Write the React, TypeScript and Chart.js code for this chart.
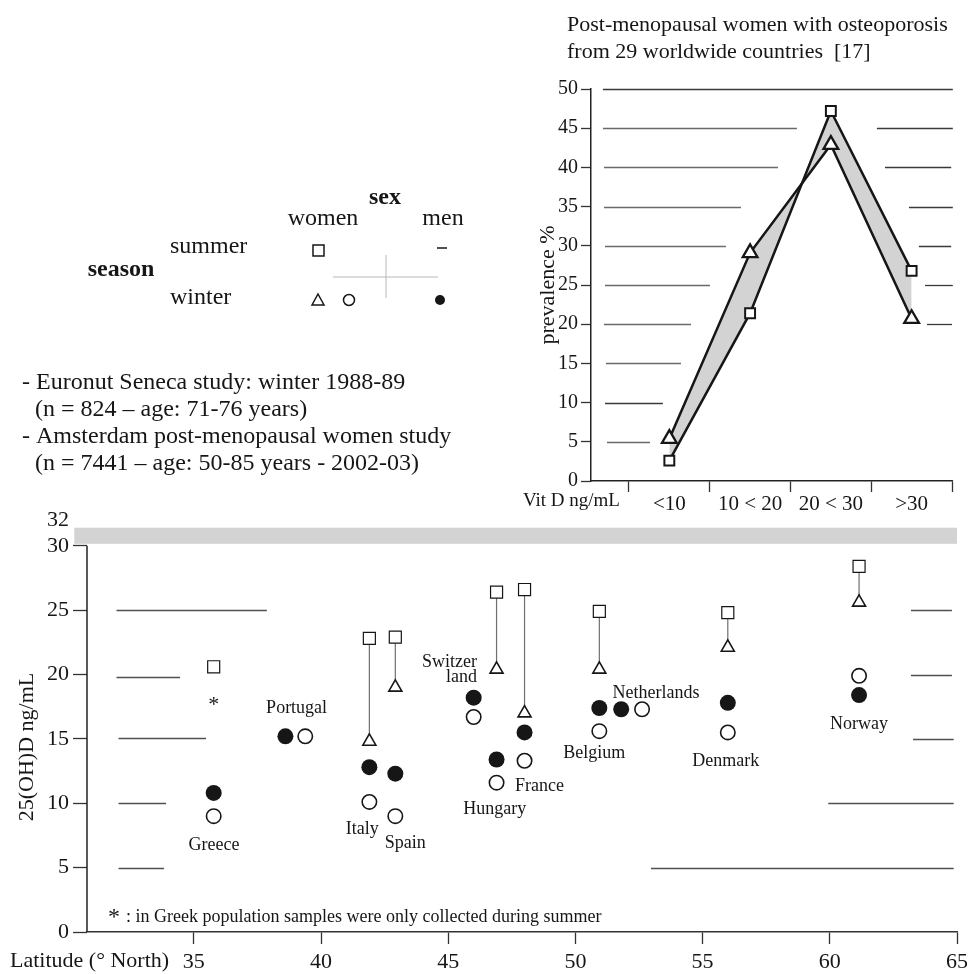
import React, { useEffect, useRef } from 'react';
import { Chart, registerables } from 'chart.js';

Chart.register(...registerables);

const FONT = "'Liberation Serif', 'Times New Roman', serif";
const INK = '#161616';

// ---------------- bottom chart data (25(OH)D by latitude) ----------------
const countries = ['Greece', 'Portugal', 'Italy', 'Spain', 'Switzerland', 'Hungary', 'France', 'Belgium', 'Netherlands', 'Denmark', 'Norway'];
const latitudeWomen = [35.78, 39.38, 41.9, 42.92, 46.0, 46.9, 48.0, 50.94, 52.62, 55.99, 61.15];
const latitudeMen = [35.78, 38.6, 41.9, 42.92, 46.0, 46.9, 48.0, 50.94, 51.8, 55.99, 61.15];
const summerWomen = [20.6, null, 22.8, 22.9, null, 26.4, 26.6, 24.9, null, 24.8, 28.4];
const winterWomenAmsterdam = [null, null, 14.8, 19.0, null, 20.4, 17.0, 20.4, null, 22.1, 25.6];
const winterWomenSeneca = [9.0, 15.2, 10.1, 9.0, 16.7, 11.6, 13.3, 15.6, 17.3, 15.5, 19.9];
const winterMenSeneca = [10.8, 15.2, 12.8, 12.3, 18.2, 13.4, 15.5, 17.4, 17.3, 17.8, 18.4];
const latitudeTicks = [35, 40, 45, 50, 55, 60, 65];
const vitDTicks = [0, 5, 10, 15, 20, 25, 30, 32];

// ---------------- top chart data (prevalence by vit D class) ----------------
const vitDClasses = ['<10', '10 < 20', '20 < 30', '>30'];
const prevalenceSquare = [2.6, 21.4, 47.2, 26.8];
const prevalenceTriangle = [5.4, 29.1, 42.9, 20.7];

// ---------------- layout helpers (label anchors in data units) ----------------
const countryLabels: { text: string[]; lat: number; val: number; align: CanvasTextAlign }[] = [
  { text: ['Greece'], lat: 35.79, val: 6.76, align: 'center' },
  { text: ['Portugal'], lat: 39.04, val: 17.41, align: 'center' },
  { text: ['Italy'], lat: 41.62, val: 8.0, align: 'center' },
  { text: ['Spain'], lat: 43.31, val: 6.92, align: 'center' },
  { text: ['Switzer', 'land'], lat: 46.13, val: 20.98, align: 'right' },
  { text: ['Hungary'], lat: 46.83, val: 9.56, align: 'center' },
  { text: ['France'], lat: 48.59, val: 11.35, align: 'center' },
  { text: ['Belgium'], lat: 50.74, val: 13.91, align: 'center' },
  { text: ['Netherlands'], lat: 53.17, val: 18.57, align: 'center' },
  { text: ['Denmark'], lat: 55.91, val: 13.29, align: 'center' },
  { text: ['Norway'], lat: 61.15, val: 16.17, align: 'center' },
];
const bottomSegments = [
  [25, 31.96, 37.87], [25, 63.19, 64.8],
  [19.8, 31.96, 34.46], [20, 63.19, 64.8],
  [15.05, 32.04, 35.48], [15, 63.27, 64.87],
  [10, 32.04, 33.91], [10, 59.94, 64.87],
  [5, 32.04, 33.83], [5, 52.97, 64.87],
];
const topSegments = [
  [50, 0.178, 4.51],
  [45, 0.178, 2.58], [45, 3.57, 4.51],
  [40, 0.19, 2.345], [40, 3.67, 4.49],
  [35, 0.19, 1.887], [35, 3.967, 4.51],
  [30, 0.203, 1.7], [30, 4.09, 4.49],
  [25, 0.203, 1.503], [25, 4.166, 4.51],
  [20, 0.19, 1.268], [20, 4.19, 4.5],
  [15, 0.215, 1.144],
  [10, 0.203, 0.92],
  [5, 0.228, 0.76],
];

function text(ctx: CanvasRenderingContext2D, s: string, x: number, y: number, size: number, align: CanvasTextAlign = 'left', bold = false) {
  ctx.font = `${bold ? 'bold ' : ''}${size}px ${FONT}`;
  ctx.fillStyle = INK;
  ctx.textAlign = align;
  ctx.textBaseline = 'middle';
  ctx.fillText(s, x, y);
}

function line(ctx: CanvasRenderingContext2D, x1: number, y1: number, x2: number, y2: number, color: string, w: number) {
  ctx.beginPath();
  ctx.strokeStyle = color;
  ctx.lineWidth = w;
  ctx.moveTo(x1, y1);
  ctx.lineTo(x2, y2);
  ctx.stroke();
}

const bottomDecor = {
  id: 'bottomDecor',
  beforeDatasetsDraw(chart: any) {
    const { ctx } = chart;
    const x = chart.scales.x, y = chart.scales.y;
    ctx.save();
    // reference band
    ctx.fillStyle = '#d3d3d3';
    const bx1 = x.getPixelForValue(30.3), bx2 = x.getPixelForValue(65);
    const by1 = y.getPixelForValue(31.4), by2 = y.getPixelForValue(30.15);
    ctx.fillRect(bx1, by1, bx2 - bx1, by2 - by1);
    // broken horizontal lines
    for (const [v, a, b] of bottomSegments) {
      const py = Math.round(y.getPixelForValue(v)) + 0.5;
      line(ctx, x.getPixelForValue(a), py, x.getPixelForValue(b), py, '#505050', 1.3);
    }
    // y axis line 0..30
    const ax = chart.chartArea.left;
    line(ctx, ax, y.getPixelForValue(0), ax, y.getPixelForValue(30), '#222', 1.5);
    ctx.restore();
  },
  afterDraw(chart: any) {
    const { ctx } = chart;
    const x = chart.scales.x, y = chart.scales.y;
    ctx.save();
    // country labels
    for (const l of countryLabels) {
      const px = x.getPixelForValue(l.lat);
      l.text.forEach((t, i) => text(ctx, t, px, y.getPixelForValue(l.val) + i * 15, 18, l.align));
    }
    // asterisk for Greece
    ctx.font = `22px ${FONT}`;
    ctx.fillStyle = INK;
    ctx.textAlign = 'center';
    ctx.textBaseline = 'alphabetic';
    ctx.fillText('*', x.getPixelForValue(latitudeWomen[0]), y.getPixelForValue(17.95) + 10);
    // footnote
    ctx.font = `24px ${FONT}`;
    ctx.textAlign = 'left';
    ctx.fillText('*', 108, 924);
    text(ctx, ': in Greek population samples were only collected during summer', 126, 917, 18);
    // axis titles
    text(ctx, 'Latitude (° North)', 10, 961, 22);
    ctx.save();
    ctx.translate(27, 747);
    ctx.rotate(-Math.PI / 2);
    text(ctx, '25(OH)D ng/mL', 0, 0, 22, 'center');
    ctx.restore();

    // top title
    text(ctx, 'Post-menopausal women with osteoporosis', 567, 25, 22);
    text(ctx, 'from 29 worldwide countries  [17]', 567, 52, 22);

    // legend block
    text(ctx, 'sex', 385, 198, 24, 'center', true);
    text(ctx, 'women', 323, 219, 24, 'center');
    text(ctx, 'men', 443, 219, 24, 'center');
    text(ctx, 'summer', 170, 247, 24);
    text(ctx, 'season', 121, 270, 24, 'center', true);
    text(ctx, 'winter', 170, 298, 24);
    line(ctx, 333, 277, 438, 277, '#b8b8b8', 1);
    line(ctx, 386, 255, 386, 298, '#b8b8b8', 1);
    ctx.lineWidth = 1.5;
    ctx.strokeStyle = INK;
    ctx.fillStyle = '#fff';
    ctx.fillRect(313, 245, 11, 11);
    ctx.strokeRect(313, 245, 11, 11);
    line(ctx, 437, 248, 447, 248, INK, 1.5);
    ctx.beginPath();
    ctx.moveTo(318, 294); ctx.lineTo(324, 305); ctx.lineTo(312, 305); ctx.closePath();
    ctx.lineWidth = 1.5; ctx.strokeStyle = INK; ctx.stroke();
    ctx.beginPath(); ctx.arc(349, 300, 5.5, 0, Math.PI * 2); ctx.stroke();
    ctx.beginPath(); ctx.arc(440, 300, 5, 0, Math.PI * 2); ctx.fillStyle = INK; ctx.fill();

    // study notes
    text(ctx, '- Euronut Seneca study: winter 1988-89', 22, 383, 24);
    text(ctx, '(n = 824 – age: 71-76 years)', 35, 410, 24);
    text(ctx, '- Amsterdam post-menopausal women study', 22, 437, 24);
    text(ctx, '(n = 7441 – age: 50-85 years - 2002-03)', 35, 464, 24);
    ctx.restore();
  },
};

const TOP_LEFT = 480;
const BOTTOM_W = 973;

const topDecor = {
  id: 'topDecor',
  beforeDatasetsDraw(chart: any) {
    const { ctx } = chart;
    const x = chart.scales.x, y = chart.scales.y;
    ctx.save();
    topSegments.forEach(([v, a, b], i) => {
      const py = Math.round(y.getPixelForValue(v)) + 0.5;
      line(ctx, x.getPixelForValue(a), py, x.getPixelForValue(b), py, i % 2 === 0 ? '#3a3a3a' : '#6a6a6a', 1.3);
    });
    ctx.restore();
  },
  afterDraw(chart: any) {
    const { ctx } = chart;
    const x = chart.scales.x;
    ctx.save();
    text(ctx, 'Vit D ng/mL', x.getPixelForValue(0.5) - 9, chart.chartArea.bottom + 20, 19, 'right');
    ctx.translate(548 - TOP_LEFT, 225);
    ctx.rotate(-Math.PI / 2);
    text(ctx, 'prevalence %', 0, 0, 22, 'center');
    ctx.restore();
  },
};

const toPoints = (lats: number[], vals: (number | null)[]) =>
  lats.map((l, i) => (vals[i] == null ? null : { x: l, y: vals[i] as number })).filter(Boolean) as { x: number; y: number }[];

export default function App() {
  const bottomRef = useRef<HTMLCanvasElement>(null);
  const topRef = useRef<HTMLCanvasElement>(null);

  useEffect(() => {
    const connectors = countries
      .map((c, i) =>
        summerWomen[i] != null && winterWomenAmsterdam[i] != null
          ? {
              type: 'line' as const,
              label: c,
              data: [
                { x: latitudeWomen[i], y: summerWomen[i] as number },
                { x: latitudeWomen[i], y: winterWomenAmsterdam[i] as number },
              ],
              showLine: true,
              borderColor: '#707070',
              borderWidth: 1.2,
              pointRadius: 0,
              order: 10,
            }
          : null
      )
      .filter(Boolean) as any[];

    const bottom = new Chart(bottomRef.current!, {
      type: 'scatter',
      data: {
        datasets: [
          {
            label: 'summer women',
            data: toPoints(latitudeWomen, summerWomen),
            pointStyle: 'rect',
            pointRadius: 8.5,
            backgroundColor: '#fff',
            borderColor: INK,
            borderWidth: 1.2,
            order: 1,
          },
          {
            label: 'winter women (Amsterdam)',
            data: toPoints(latitudeWomen, winterWomenAmsterdam),
            pointStyle: 'triangle',
            pointRadius: 7.5,
            backgroundColor: '#fff',
            borderColor: INK,
            borderWidth: 1.6,
            order: 1,
          },
          {
            label: 'winter women (Seneca)',
            data: toPoints(latitudeWomen, winterWomenSeneca),
            pointStyle: 'circle',
            pointRadius: 7.2,
            backgroundColor: '#fff',
            borderColor: INK,
            borderWidth: 1.6,
            order: 1,
          },
          {
            label: 'winter men (Seneca)',
            data: toPoints(latitudeMen, winterMenSeneca),
            pointStyle: 'circle',
            pointRadius: 8,
            backgroundColor: INK,
            borderColor: INK,
            borderWidth: 0,
            order: 1,
          },
          ...connectors,
        ],
      },
      options: {
        responsive: false,
        animation: false,
        layout: { padding: { top: 520, right: 6, left: 0, bottom: 0 } },
        plugins: { legend: { display: false }, tooltip: { enabled: false } },
        scales: {
          x: {
            type: 'linear',
            min: 30.8,
            max: 65,
            afterBuildTicks: (s: any) => { s.ticks = latitudeTicks.map((v) => ({ value: v })); },
            afterFit: (s: any) => { s.height = 42; },
            grid: { drawOnChartArea: false, tickLength: 12, color: '#333', tickWidth: 1.3 },
            border: { display: true, color: '#333', width: 1.5 },
            ticks: { font: { family: FONT, size: 22 }, color: INK, padding: 5, maxRotation: 0 },
          },
          y: {
            type: 'linear',
            min: 0,
            max: 32,
            afterBuildTicks: (s: any) => { s.ticks = vitDTicks.map((v) => ({ value: v })); },
            afterFit: (s: any) => { s.width = 87; },
            grid: {
              drawOnChartArea: false,
              tickLength: 14,
              tickWidth: 1.3,
              tickColor: (c: any) => (c.tick && c.tick.value === 32 ? 'rgba(0,0,0,0)' : '#333'),
            },
            border: { display: false },
            ticks: { font: { family: FONT, size: 22 }, color: INK, padding: 4 },
          },
        },
      },
      plugins: [bottomDecor],
    } as any);

    const top = new Chart(topRef.current!, {
      type: 'line',
      data: {
        datasets: [
          {
            label: 'square',
            data: vitDClasses.map((_, i) => ({ x: i + 1, y: prevalenceSquare[i] })),
            borderColor: INK,
            borderWidth: 2.5,
            pointStyle: 'rect',
            pointRadius: 7,
            pointBackgroundColor: '#fff',
            pointBorderColor: INK,
            pointBorderWidth: 2,
            fill: false,
            tension: 0,
          },
          {
            label: 'triangle',
            data: vitDClasses.map((_, i) => ({ x: i + 1, y: prevalenceTriangle[i] })),
            borderColor: INK,
            borderWidth: 2.5,
            pointStyle: 'triangle',
            pointRadius: 8.5,
            pointBackgroundColor: '#fff',
            pointBorderColor: INK,
            pointBorderWidth: 2.3,
            fill: '-1',
            backgroundColor: '#d3d3d3',
            tension: 0,
          },
        ],
      },
      options: {
        responsive: false,
        animation: false,
        layout: { padding: { top: 29, right: 16, left: 0, bottom: 0 } },
        plugins: { legend: { display: false }, tooltip: { enabled: false } },
        scales: {
          x: {
            type: 'linear',
            min: 0.03,
            max: 4.5,
            afterBuildTicks: (s: any) => {
              const t: { value: number }[] = [];
              for (let i = 0; i <= vitDClasses.length; i++) {
                t.push({ value: i + 0.5 });
                if (i < vitDClasses.length) t.push({ value: i + 1 });
              }
              t.sort((a, b) => a.value - b.value);
              s.ticks = t;
            },
            afterFit: (s: any) => { s.height = 39; },
            grid: {
              drawOnChartArea: false,
              tickLength: 11,
              tickWidth: 1.3,
              tickColor: (c: any) => (c.tick && Number.isInteger(c.tick.value) ? 'rgba(0,0,0,0)' : '#333'),
            },
            border: { display: true, color: '#222', width: 1.5 },
            ticks: {
              font: { family: FONT, size: 21 },
              color: INK,
              padding: 0,
              maxRotation: 0,
              autoSkip: false,
              callback: (v: any) => (Number.isInteger(v) ? vitDClasses[v - 1] : ''),
            },
          },
          y: {
            type: 'linear',
            min: 0,
            max: 50,
            ticks: { stepSize: 5, font: { family: FONT, size: 20 }, color: INK, padding: 3 },
            afterFit: (s: any) => { s.width = 591 - TOP_LEFT; },
            grid: { drawOnChartArea: false, tickLength: 10, tickWidth: 1.3, tickColor: '#333' },
            border: { display: true, color: '#222', width: 1.5 },
          },
        },
      },
      plugins: [topDecor],
    } as any);

    return () => {
      bottom.destroy();
      top.destroy();
    };
  }, []);

  return (
    <div style={{ position: 'absolute', left: 0, top: 0, width: 968, height: 974, background: '#fff', overflow: 'hidden' }}>
      <canvas ref={bottomRef} width={BOTTOM_W} height={974} style={{ position: 'absolute', left: 0, top: 0, width: BOTTOM_W, height: 974 }} />
      <canvas ref={topRef} width={968 - TOP_LEFT} height={460} style={{ position: 'absolute', left: TOP_LEFT, top: 60, width: 968 - TOP_LEFT, height: 460 }} />
    </div>
  );
}
